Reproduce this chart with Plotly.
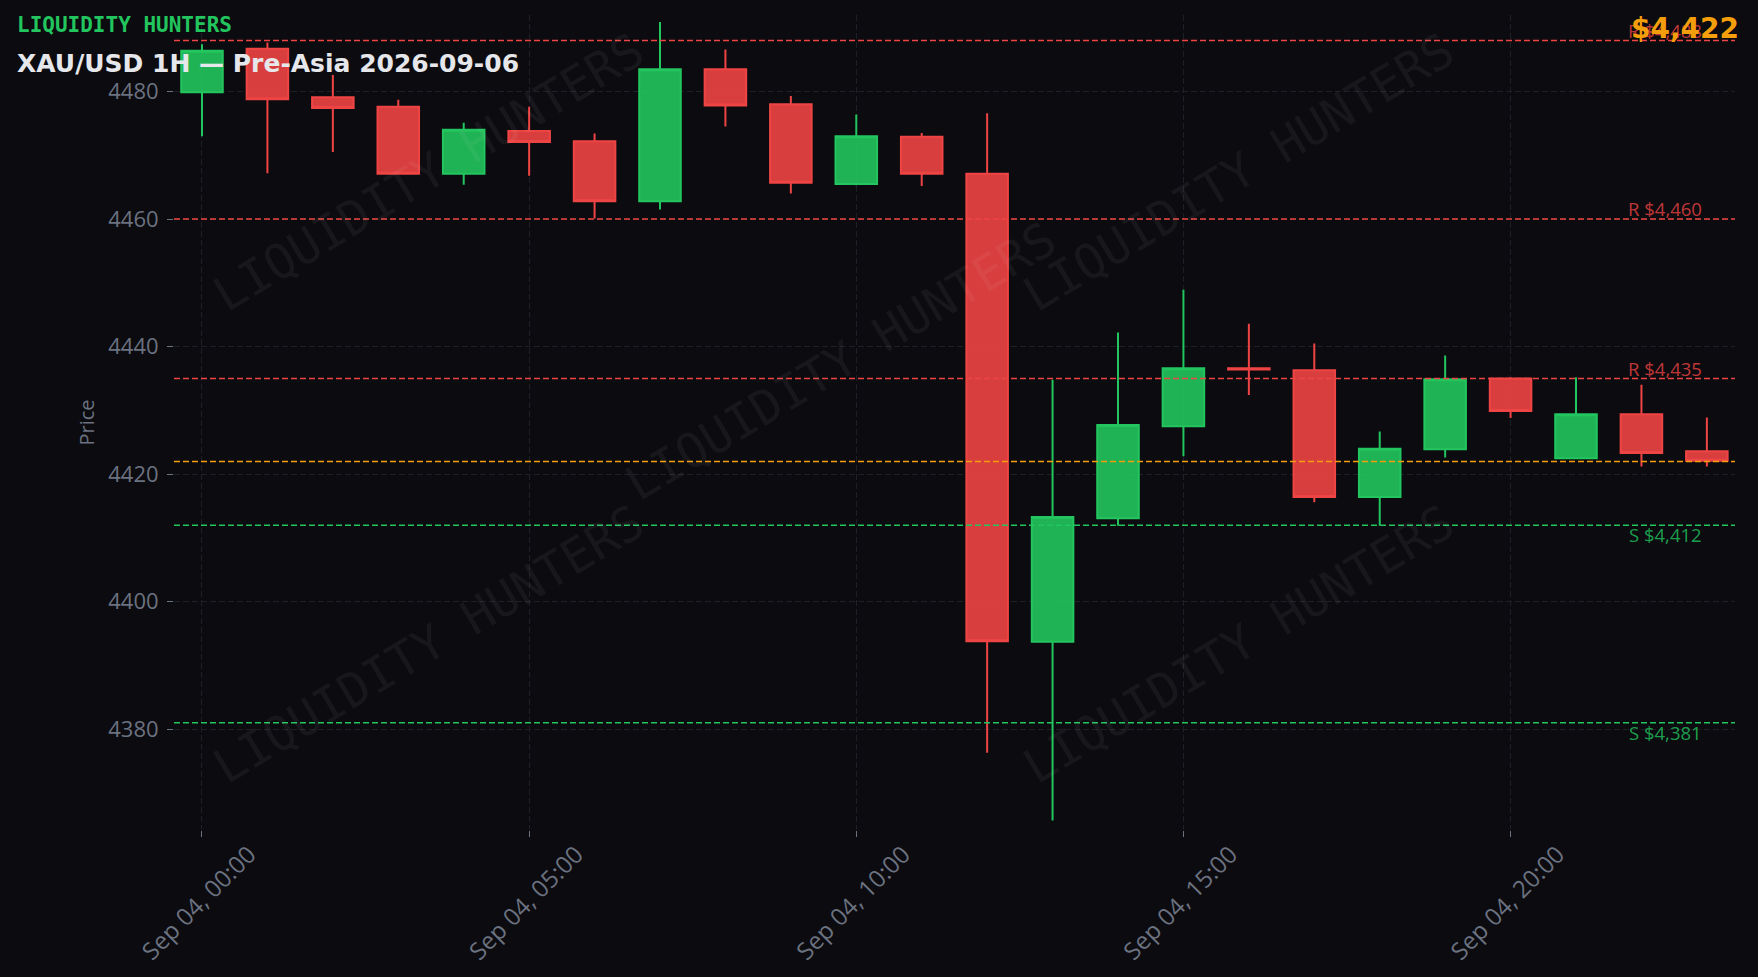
import plotly.graph_objects as go

times = [f"2026-09-04 {h:02d}:00" for h in range(24)]
opens  = [4479.9, 4486.7, 4479.1, 4477.6, 4467.1, 4473.8, 4472.2, 4462.8, 4483.5, 4478.0, 4465.5, 4472.9,
          4467.1, 4393.7, 4413.1, 4427.5, 4436.6, 4436.3, 4416.4, 4423.9, 4435.0, 4422.5, 4429.4, 4423.6]
highs  = [4487.4, 4487.7, 4482.6, 4478.7, 4475.1, 4477.6, 4473.4, 4490.9, 4486.6, 4479.3, 4476.4, 4473.5,
          4476.6, 4434.8, 4442.2, 4448.9, 4443.6, 4440.5, 4426.7, 4438.6, 4435.2, 4435.2, 4434.0, 4428.9]
lows   = [4473.0, 4467.2, 4470.5, 4467.0, 4465.4, 4466.8, 4460.1, 4461.5, 4474.5, 4464.0, 4465.3, 4465.2,
          4376.3, 4365.7, 4411.9, 4422.8, 4432.4, 4415.6, 4411.9, 4422.6, 4428.8, 4422.4, 4421.2, 4421.2]
closes = [4486.4, 4478.8, 4477.4, 4467.1, 4474.0, 4472.1, 4462.8, 4483.5, 4477.8, 4465.7, 4473.0, 4467.1,
          4393.8, 4413.3, 4427.7, 4436.6, 4436.4, 4416.4, 4424.0, 4434.9, 4429.9, 4429.4, 4423.3, 4422.1]

resistance_levels = [4488, 4460, 4435]
support_levels = [4412, 4381]
current_price = 4422

BG = "#0b0b10"
GREEN = "#22c55e"
RED = "#ef4444"
ORANGE = "#f59e0b"
GREY = "#6b7280"
GRID = "#1e2028"

fig = go.Figure()
fig.add_trace(go.Candlestick(
    x=times, open=opens, high=highs, low=lows, close=closes,
    increasing=dict(line=dict(color=GREEN, width=2), fillcolor="rgba(34,197,94,0.9)"),
    decreasing=dict(line=dict(color=RED, width=2), fillcolor="rgba(239,68,68,0.9)"),
    showlegend=False, hoverinfo="skip",
))

annotations = []
for lv in resistance_levels:
    fig.add_hline(y=lv, line=dict(color=RED, width=1.5, dash="6px,3px"))
    annotations.append(dict(xref="paper", yref="y", x=0.98, y=lv, xanchor="right", yanchor="bottom",
                            yshift=-4, text=f"R ${lv:,}", showarrow=False,
                            font=dict(family="Open Sans", size=18.5, color="rgba(239,68,68,0.8)")))
for lv in support_levels:
    fig.add_hline(y=lv, line=dict(color=GREEN, width=1.5, dash="6px,3px"))
    annotations.append(dict(xref="paper", yref="y", x=0.98, y=lv, xanchor="right", yanchor="top",
                            yshift=5, text=f"S ${lv:,}", showarrow=False,
                            font=dict(family="Open Sans", size=18.5, color="rgba(34,197,94,0.8)")))
fig.add_hline(y=current_price, line=dict(color=ORANGE, width=1.5, dash="6px,3px"))

# watermarks
for (wx, wy) in [(0.163, 0.807), (0.427, 0.575), (0.682, 0.807), (0.163, 0.228), (0.682, 0.228)]:
    annotations.append(dict(xref="paper", yref="paper", x=wx, y=wy, text="LIQUIDITY HUNTERS",
                            showarrow=False, textangle=-31,
                            font=dict(family="DejaVu Sans Mono", size=48, color="rgba(255,255,255,0.05)"),
                            xanchor="center", yanchor="middle"))

annotations.append(dict(xref="paper", yref="paper", x=-0.1017, y=0.9874, xanchor="left", yanchor="middle",
                        text="<b>LIQUIDITY HUNTERS</b>", showarrow=False,
                        font=dict(family="DejaVu Sans Mono", size=21, color=GREEN)))
annotations.append(dict(xref="paper", yref="paper", x=-0.1017, y=0.9399, xanchor="left", yanchor="middle",
                        text="<b>XAU/USD 1H — Pre-Asia 2026-09-06</b>", showarrow=False,
                        font=dict(family="DejaVu Sans", size=25, color="#e5e7eb")))
annotations.append(dict(xref="paper", yref="paper", x=1.004, y=0.984, xanchor="right", yanchor="middle",
                        text=f"<b>${current_price:,}</b>", showarrow=False,
                        font=dict(family="DejaVu Sans", size=28, color=ORANGE)))

fig.update_layout(
    width=1758, height=977,
    margin=dict(l=174, r=23, t=15, b=147),
    paper_bgcolor=BG, plot_bgcolor=BG,
    font=dict(family="Open Sans", color=GREY),
    annotations=annotations,
    boxgap=0.365, boxgroupgap=0,
    xaxis=dict(
        type="date", rangeslider=dict(visible=False), automargin=False,
        range=["2026-09-03 23:34:20", "2026-09-04 23:25:48"],
        dtick=5 * 3600000, tick0="2026-09-04 00:00", tickformat="%b %d, %H:%M",
        tickangle=-45, tickfont=dict(size=24, color=GREY), ticklabelshift=47, ticklabelstandoff=-6,
        showgrid=True, gridcolor=GRID, griddash="6px,3px", gridwidth=1,
        ticks="outside", ticklen=6, tickcolor=GREY, zeroline=False, showline=False,
    ),
    yaxis=dict(
        range=[4364.2, 4492.0], dtick=20, tick0=4380, automargin=False,
        tickfont=dict(size=22, color=GREY), ticklabelstandoff=4,
        title=dict(text="Price", font=dict(size=20, color=GREY), standoff=8),
        showgrid=True, gridcolor=GRID, griddash="6px,3px", gridwidth=1,
        ticks="outside", ticklen=6, tickcolor=GREY, zeroline=False, showline=False,
    ),
)

fig.write_html("out.html", config={"displayModeBar": False},
               post_script="document.body.style.margin='0';document.body.style.background='#0b0b10';")
